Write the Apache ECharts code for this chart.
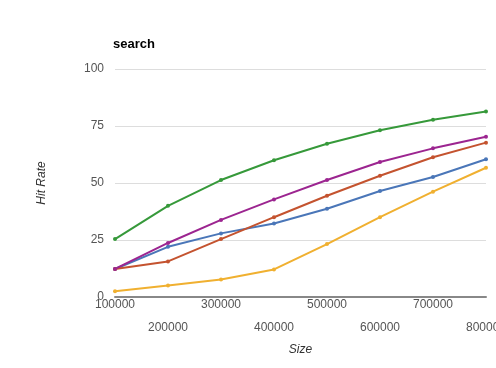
<!DOCTYPE html>
<html><head><meta charset="utf-8">
<script src="https://cdn.jsdelivr.net/npm/echarts@6/dist/echarts.min.js"></script>
<style>html,body{margin:0;padding:0;background:#fff}#c{width:496px;height:368px}</style>
</head><body><div id="c"></div>
<script>
const sizes = [100000, 200000, 300000, 400000, 500000, 600000, 700000, 800000];
const green  = [25.4, 40.0, 51.3, 60.0, 67.2, 73.1, 77.7, 81.4];
const purple = [12.3, 23.7, 33.8, 42.8, 51.3, 59.2, 65.2, 70.3];
const red    = [12.3, 15.6, 25.4, 35.0, 44.4, 53.2, 61.3, 67.7];
const blue   = [12.3, 22.0, 27.9, 32.2, 38.7, 46.5, 52.6, 60.4];
const yellow = [2.5, 5.0, 7.7, 12.1, 23.2, 35.0, 46.2, 56.7];
const yTicks = [0, 25, 50, 75, 100];

function pts(arr){ return sizes.map((s,i)=>[s, arr[i]]); }
function ser(name, arr, color){
  return {name, type:'line', data: pts(arr), symbol:'circle', symbolSize:4,
    lineStyle:{color, width:2}, itemStyle:{color}, animation:false};
}
const chart = echarts.init(document.getElementById('c'), null, {renderer:'canvas'});
chart.setOption({
  animation:false,
  textStyle:{fontFamily:'Liberation Sans, Arial, sans-serif'},
  title:{text:'search', left:108, top:33, textStyle:{fontSize:13, fontWeight:'bold', color:'#000', fontFamily:'Liberation Sans, Arial, sans-serif'}},
  grid:{left:115, right:10, top:69, bottom:71, containLabel:false, outerBoundsMode:'none'},
  xAxis:{type:'value', min:100000, max:800000, interval:100000,
    name:'Size', nameLocation:'middle', nameGap:43,
    nameTextStyle:{fontStyle:'italic', fontSize:12, color:'#333'},
    axisLine:{lineStyle:{color:'#888', width:2}}, axisTick:{show:false}, splitLine:{show:false},
    axisLabel:{color:'#555', fontSize:12, margin:-4, lineHeight:23, showMaxLabel:true, showMinLabel:true, hideOverlap:false,
      formatter:(v)=>{ const i = Math.round((v-100000)/100000); return i%2===1 ? ' \n'+v : ''+v; }}},
  yAxis:{type:'value', min:0, max:100, interval:25,
    name:'Hit Rate', nameLocation:'middle', nameGap:67, nameRotate:90,
    nameTextStyle:{fontStyle:'italic', fontSize:12, color:'#333'},
    axisLine:{show:false}, axisTick:{show:false},
    splitLine:{lineStyle:{color:'#ddd', width:1}},
    axisLabel:{color:'#555', fontSize:12, margin:11, formatter:(v)=> yTicks.includes(v)? ''+v : ''}},
  series:[
    ser('blue', blue, '#4a76b8'),
    ser('red', red, '#c4532f'),
    ser('yellow', yellow, '#f0b030'),
    ser('green', green, '#36993a'),
    ser('purple', purple, '#9c2590')
  ]
});
</script></body></html>
